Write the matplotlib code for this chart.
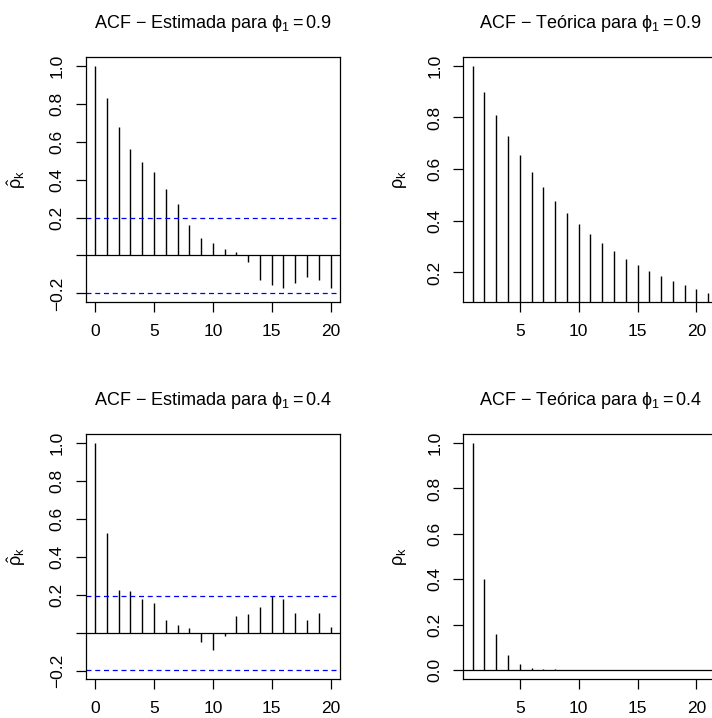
"""
ACF estimada vs teorica para AR(1) con phi = 0.9 y phi = 0.4
"""

import matplotlib
matplotlib.use("Agg")
from matplotlib import pyplot as plt

# Datos
lags_est = list(range(0, 21))
acf_est_09 = [1.0, 0.829, 0.678, 0.563, 0.491, 0.442, 0.350, 0.270, 0.161, 0.094,
              0.065, 0.035, 0.018, -0.034, -0.127, -0.157, -0.171, -0.143, -0.114,
              -0.129, -0.171]
acf_est_04 = [1.0, 0.526, 0.225, 0.218, 0.180, 0.159, 0.068, 0.042, 0.026, -0.049,
              -0.093, -0.019, 0.088, 0.100, 0.137, 0.194, 0.180, 0.105, 0.068,
              0.102, 0.028]
conf_lim = 0.196

lags_teo = list(range(1, 22))
acf_teo_09 = [1.0, 0.9, 0.81, 0.729, 0.656, 0.590, 0.531, 0.478, 0.430, 0.387,
              0.349, 0.314, 0.282, 0.254, 0.229, 0.206, 0.185, 0.167, 0.150,
              0.135, 0.122]
acf_teo_04 = [1.0, 0.4, 0.16, 0.064, 0.026, 0.010, 0.004, 0.002, 0.0007, 0.0003,
              0.0001, 0.0, 0.0, 0.0, 0.0, 0.0, 0.0, 0.0, 0.0, 0.0, 0.0]

titulos = {
    "est_09": r"ACF $-$ Estimada para $\mathrm{\phi}_1 = 0.9$",
    "teo_09": r"ACF $-$ Teórica para $\mathrm{\phi}_1 = 0.9$",
    "est_04": r"ACF $-$ Estimada para $\mathrm{\phi}_1 = 0.4$",
    "teo_04": r"ACF $-$ Teórica para $\mathrm{\phi}_1 = 0.4$",
}

plt.rcParams["font.family"] = ["Liberation Sans", "DejaVu Sans"]
plt.rcParams["mathtext.fontset"] = "custom"
plt.rcParams["mathtext.rm"] = "Liberation Sans"
plt.rcParams["mathtext.it"] = "Liberation Sans:italic"
plt.rcParams["mathtext.sf"] = "Liberation Sans"

W, H = 712, 718
fig = plt.figure(figsize=(W / 100, H / 100), dpi=100)


def r_range(vals):
    # rango con extension de 4% como en R
    lo, hi = min(vals), max(vals)
    d = 0.04 * (hi - lo)
    return lo - d, hi + d


def style_axes(ax):
    for s in ax.spines.values():
        s.set_linewidth(0.9)
    ax.tick_params(direction="out", length=7, width=0.9, labelsize=12.5)
    ax.tick_params(axis="x", pad=9)
    ax.tick_params(axis="y", pad=8)
    for lab in ax.get_yticklabels():
        lab.set_rotation(90)
        lab.set_va("center")
    ax.yaxis.label.set_va("center")


def acf_est_plot(rect, vals, titulo):
    ax = fig.add_axes(rect)
    ax.vlines(lags_est, 0, vals, color="black", lw=1.0)
    ax.axhline(0, color="black", lw=0.9)
    ax.axhline(conf_lim, color="blue", lw=0.9, ls=(0, (4, 3)))
    ax.axhline(-conf_lim, color="blue", lw=0.9, ls=(0, (4, 3)))
    ax.set_xlim(r_range(lags_est))
    ax.set_ylim(r_range(vals + [-conf_lim, conf_lim]))
    ax.set_xticks([0, 5, 10, 15, 20])
    yt = [-0.2, 0.0, 0.2, 0.4, 0.6, 0.8, 1.0]
    ax.set_yticks(yt, ["" if v == 0 else f"{v:.1f}".replace("-", "\u2212") for v in yt])
    ax.set_ylabel(r"$\hat{\mathrm{\rho}}_\mathrm{k}$", fontsize=13)
    ax.yaxis.set_label_coords(-0.272, 0.5)
    ax.set_title(titulo, fontsize=13, pad=21)
    style_axes(ax)
    return ax


def acf_teo_plot(rect, vals, titulo, yt):
    ax = fig.add_axes(rect)
    ax.vlines(lags_teo, 0, vals, color="black", lw=1.0)
    ax.axhline(0, color="black", lw=0.9)
    ax.set_xlim(r_range(lags_teo))
    ax.set_ylim(r_range(vals))
    ax.set_xticks([5, 10, 15, 20])
    ax.set_yticks(yt, [f"{v:.1f}" for v in yt])
    ax.set_ylabel(r"$\mathrm{\rho}_\mathrm{k}$", fontsize=13)
    ax.yaxis.set_label_coords(-0.249, 0.5)
    ax.set_title(titulo, fontsize=13, pad=21)
    style_axes(ax)
    return ax


# posiciones en pixeles (la columna derecha sale del lienzo como en el original)
x_izq, x_der, ancho = 85.7, 463.3, 254.3
y_sup, y_inf, alto = 301.7, 679.0, 245.0


def rect(x0, y_bottom):
    return [x0 / W, 1 - y_bottom / H, ancho / W, alto / H]


acf_est_plot(rect(x_izq, y_sup), acf_est_09, titulos["est_09"])
acf_teo_plot(rect(x_der, y_sup), acf_teo_09, titulos["teo_09"], [0.2, 0.4, 0.6, 0.8, 1.0])
acf_est_plot(rect(x_izq, y_inf), acf_est_04, titulos["est_04"])
acf_teo_plot(rect(x_der, y_inf), acf_teo_04, titulos["teo_04"], [0.0, 0.2, 0.4, 0.6, 0.8, 1.0])

plt.savefig("out.png", dpi=100)
plt.close()
